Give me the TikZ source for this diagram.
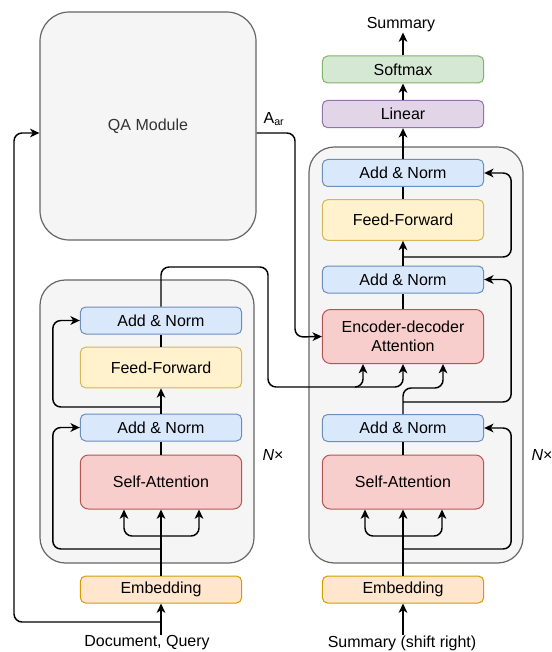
\documentclass[tikz,border=0pt]{standalone}
\usepackage{fontspec}
\setmainfont{Liberation Sans}
\usetikzlibrary{arrows.meta,calc}

\definecolor{grayF}{HTML}{F5F5F5}
\definecolor{grayD}{HTML}{666666}
\definecolor{qaT}{HTML}{333333}
\definecolor{blueF}{HTML}{DAE8FC}
\definecolor{blueD}{HTML}{6C8EBF}
\definecolor{yelF}{HTML}{FFF2CC}
\definecolor{yelD}{HTML}{D6B656}
\definecolor{redF}{HTML}{F8CECC}
\definecolor{redD}{HTML}{B85450}
\definecolor{grnF}{HTML}{D5E8D4}
\definecolor{grnD}{HTML}{82B366}
\definecolor{purF}{HTML}{E1D5E7}
\definecolor{purD}{HTML}{9673A6}
\definecolor{orgF}{HTML}{FFE6CC}
\definecolor{orgD}{HTML}{D79B00}

\tikzstyle{bS}=[rounded corners=4pt,minimum width=121pt,inner sep=0pt,draw,line width=0.75pt,font=\fontsize{12}{14}\selectfont,align=center]
\tikzstyle{bAN}=[bS,minimum height=20.25pt,fill=blueF,draw=blueD]
\tikzstyle{bFF}=[bS,minimum height=30.5pt,fill=yelF,draw=yelD]
\tikzstyle{bAT}=[bS,rounded corners=6pt,minimum height=40.5pt,fill=redF,draw=redD]
\tikzstyle{bEM}=[bS,minimum height=20.25pt,fill=orgF,draw=orgD]
\tikzstyle{bLN}=[bS,minimum height=20.5pt,fill=purF,draw=purD]
\tikzstyle{bSM}=[bS,minimum height=20.25pt,fill=grnF,draw=grnD]
\tikzstyle{cS}=[rounded corners=19pt,inner sep=0pt,fill=grayF,draw=grayD,line width=0.9pt]
\tikzstyle{tS}=[inner sep=0pt,font=\fontsize{12}{14}\selectfont]
\tikzstyle{lS}=[line width=1.1pt,rounded corners=6pt]
\tikzstyle{aS}=[lS,-{Stealth[length=7pt,width=6.5pt,inset=2pt]}]

\begin{document}
\begin{tikzpicture}[x=0.75pt,y=-0.75pt]
                \useasboundingbox (0,0) rectangle (552,652);
                % containers
                \draw (148,126) node[cS,rounded corners=22pt,minimum width=162pt,minimum height=171pt,font=\fontsize{12}{14}\selectfont,text=qaT] (qa) {QA Module};
                \draw (147,421.5) node[cS,minimum width=160.5pt,minimum height=212.25pt] (encBox) {};
                \draw (416,355) node[cS,minimum width=160.5pt,minimum height=312pt] (decBox) {};
                % encoder
                \draw (161,589.5) node[bEM] (eEmb) {Embedding};
                \draw (161,482) node[bAT] (eSA) {Self-Attention};
                \draw (161,427.5) node[bAN] (eAN2) {Add \& Norm};
                \draw (161,367.5) node[bFF] (eFF) {Feed-Forward};
                \draw (161,320.5) node[bAN] (eAN1) {Add \& Norm};
                \draw (147,643) node[tS] (docIn) {Document, Query};
                \draw (273,455) node[tS] (eRep) {\textit{N}×};
                % decoder
                \draw (403,589.5) node[bEM] (dEmb) {Embedding};
                \draw (403,482) node[bAT] (dSA) {Self-Attention};
                \draw (403,428) node[bAN] (dAN3) {Add \& Norm};
                \draw (403,336.5) node[bAT] (dED) {Encoder-decoder\\Attention};
                \draw (403,279.5) node[bAN] (dAN2) {Add \& Norm};
                \draw (403,220) node[bFF] (dFF) {Feed-Forward};
                \draw (403,173) node[bAN] (dAN1) {Add \& Norm};
                \draw (403,114) node[bLN] (dLin) {Linear};
                \draw (403,69.5) node[bSM] (dSm) {Softmax};
                \draw (401,25) node[tS] (sumOut) {Summary};
                \draw (402,643) node[tS] (sumIn) {Summary (shift right)};
                \draw (542,455) node[tS] (dRep) {\textit{N}×};
                \draw (274,119) node[tS] (aLbl) {A\textsubscript{ar}};
                % encoder links
                \coordinate (eLoop) at (161,622);
                \coordinate (eBr) at (161,536);
                \coordinate (eR1) at (161,549);
                \coordinate (eR2) at (161,407);
                \draw[aS] (eEmb.south |- docIn.north) -- (eEmb.south);
                \draw[aS] (eLoop) -- (14,622) -- (14,133) -- ($(qa.west)+(0,7)$);
                \draw[aS] (eEmb.north) -- (eSA.south);
                \draw[aS] (eBr) -| ($(eSA.south)+(-37,0)$);
                \draw[aS] (eBr) -| ($(eSA.south)+(38,0)$);
                \draw[aS] (eR1) -| ($(eAN2.west)+(-27,0)$) -- (eAN2.west);
                \draw[lS] (eSA.north) -- (eAN2.south);
                \draw[aS] (eAN2.north) -- (eFF.south);
                \draw[aS] (eR2) -| ($(eAN1.west)+(-27,0)$) -- (eAN1.west);
                \draw[lS] (eFF.north) -- (eAN1.south);
                \draw[aS] (eAN1.north) -- (161,267) -- (268,267) -- (268,387) -| ($(dED.south)+(-40,0)$);
                \draw[aS] (355,387) -| (dED.south);
                % A_ar link
                \draw[aS] ($(qa.east)+(0,7)$) -- (295,133) -- (295,337) -- (dED.west);
                % decoder links
                \coordinate (dBr) at (403,536);
                \coordinate (dR1) at (403,549);
                \coordinate (dR2) at (403,402);
                \coordinate (dR3) at (403,257);
                \draw[aS] (dEmb.south |- sumIn.north) -- (dEmb.south);
                \draw[aS] (dEmb.north) -- (dSA.south);
                \draw[aS] (dBr) -| ($(dSA.south)+(-38,0)$);
                \draw[aS] (dBr) -| ($(dSA.south)+(39,0)$);
                \draw[aS] (dR1) -| ($(dAN3.east)+(27,0)$) -- (dAN3.east);
                \draw[lS] (dSA.north) -- (dAN3.south);
                \draw[aS] (dAN3.north) -- (403,388) -| ($(dED.south)+(40,0)$);
                \draw[aS] (dR2) -| ($(dAN2.east)+(27,0)$) -- (dAN2.east);
                \draw[lS] (dED.north) -- (dAN2.south);
                \draw[aS] (dAN2.north) -- (dFF.south);
                \draw[aS] (dR3) -| ($(dAN1.east)+(27,0)$) -- (dAN1.east);
                \draw[lS] (dFF.north) -- (dAN1.south);
                \draw[aS] (dAN1.north) -- (dLin.south);
                \draw[aS] (dLin.north) -- (dSm.south);
                \draw[aS] (dSm.north) -- (dSm.north |- sumOut.south);
        \end{tikzpicture}
\end{document}
